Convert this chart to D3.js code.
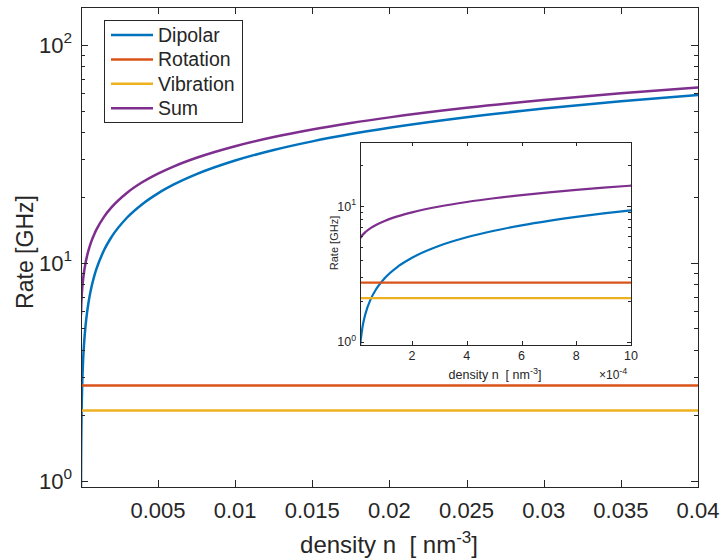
<!DOCTYPE html>
<html><head><meta charset="utf-8">
<script src="https://cdn.jsdelivr.net/npm/d3@7"></script>
<style>
body{margin:0;background:#fff}
text{font-family:"Liberation Sans",Arial,Helvetica,sans-serif;fill:#262626}
</style>
</head><body>
<svg id="c" width="722" height="558"></svg>
<script>
// ---- data ----
const density = [0.00001,0.00002,0.00003,0.00005,0.00007,0.0001,0.00015,0.0002,0.0003,0.0004,0.0005,0.0006,0.0007,0.0008,0.0009,0.001,0.0015,0.002,0.003,0.004,0.005,0.006,0.0075,0.01,0.0125,0.015,0.0175,0.02,0.025,0.03,0.035,0.04];
const dipolar = [0.933,1.319,1.616,2.086,2.468,2.95,3.613,4.172,5.11,5.90,6.596,7.226,7.805,8.344,8.85,9.329,11.425,13.193,16.158,18.657,20.86,22.85,25.55,29.5,32.98,36.13,39.02,41.72,46.64,51.1,55.19,59.0];
const sumRate = [5.77,6.16,6.46,6.93,7.31,7.79,8.45,9.01,9.95,10.74,11.44,12.07,12.65,13.18,13.69,14.17,16.27,18.03,21.0,23.5,25.7,27.69,30.39,34.34,37.82,40.97,43.86,46.56,51.48,55.94,60.03,63.84];
const flatX = [0.00001, 0.04];
const rotation = [2.74, 2.74];
const vibration = [2.10, 2.10];

const seriesNames = ["Dipolar","Rotation","Vibration","Sum"];
const seriesColors = ["#0072BD","#D95319","#EDB120","#7E2F8E"];

const xTicks = [0.005,0.01,0.015,0.02,0.025,0.03,0.035,0.04];
const xTickLabels = ["0.005","0.01","0.015","0.02","0.025","0.03","0.035","0.04"];
const yMajorTicks = [1,10,100];
const yMajorExp = ["0","1","2"];
const insetXTicks = [0.0002,0.0004,0.0006,0.0008,0.001];
const insetXTickLabels = ["2","4","6","8","10"];
const insetYMajor = [1,10];
const insetYExp = ["0","1"];

// ---- helpers ----
const svg = d3.select("#c");
const AX = "#262626";

function minorTicks(dom){
  const out=[];
  for(let e=-1;e<=3;e++){for(let m=2;m<=9;m++){const v=m*Math.pow(10,e); if(v>dom[0]&&v<dom[1]) out.push(v);}}
  return out;
}

function drawPanel(g, x, y, opt){
  const [x0,x1]=x.range(), [y0,y1]=y.range(); // y0 bottom, y1 top
  const id = opt.id;
  g.append("clipPath").attr("id",id).append("rect")
    .attr("x",x0).attr("y",y1).attr("width",x1-x0).attr("height",y0-y1);
  if(opt.bg) g.append("rect").attr("x",x0).attr("y",y1).attr("width",x1-x0).attr("height",y0-y1).attr("fill","#fff");
  const lines = g.append("g").attr("clip-path",`url(#${id})`);
  const lineGen = d3.line().x(d=>x(d[0])).y(d=>y(d[1])).curve(d3.curveMonotoneX);
  const sets = [
    d3.zip(density,dipolar),
    d3.zip(flatX,rotation),
    d3.zip(flatX,vibration),
    d3.zip(density,sumRate)
  ];
  sets.forEach((s,i)=>{
    lines.append("path").attr("d",lineGen(s)).attr("fill","none")
      .attr("stroke",seriesColors[i]).attr("stroke-width",opt.lw).attr("stroke-linejoin","round");
  });
  // ticks
  const t = g.append("g").attr("stroke",AX).attr("stroke-width",1);
  opt.xt.forEach(v=>{
    const px=Math.round(x(v))+0.5;
    t.append("line").attr("x1",px).attr("x2",px).attr("y1",y0).attr("y2",y0-opt.maj);
    t.append("line").attr("x1",px).attr("x2",px).attr("y1",y1).attr("y2",y1+opt.maj);
  });
  const ymaj = opt.ymaj.filter(v=>v>=y.domain()[0]&&v<=y.domain()[1]);
  ymaj.forEach(v=>{
    const py=Math.round(y(v))+0.5;
    t.append("line").attr("x1",x0).attr("x2",x0+opt.maj).attr("y1",py).attr("y2",py);
    t.append("line").attr("x1",x1).attr("x2",x1-opt.maj).attr("y1",py).attr("y2",py);
  });
  minorTicks(y.domain()).forEach(v=>{
    const py=Math.round(y(v))+0.5;
    t.append("line").attr("x1",x0).attr("x2",x0+opt.min).attr("y1",py).attr("y2",py);
    t.append("line").attr("x1",x1).attr("x2",x1-opt.min).attr("y1",py).attr("y2",py);
  });
  g.append("rect").attr("x",x0+0.5).attr("y",y1+0.5).attr("width",x1-x0).attr("height",y0-y1)
    .attr("fill","none").attr("stroke",AX).attr("stroke-width",1);
  // x tick labels
  opt.xt.forEach((v,i)=>{
    g.append("text").attr("x",x(v)).attr("y",y0+opt.xly).attr("text-anchor","middle")
      .attr("font-size",opt.fs).text(opt.xtl[i]);
  });
  // y tick labels 10^k
  opt.ymaj.forEach((v,i)=>{
    const tx = g.append("text").attr("x",x0+opt.ylx).attr("y",y(v)+opt.fs*0.36).attr("text-anchor","end").attr("font-size",opt.fs);
    tx.append("tspan").text("10");
    tx.append("tspan").attr("dy",-opt.fs*0.45).attr("font-size",opt.fs*0.7).text(opt.yexp[i]);
  });
}

// ---- main axes ----
const xMain = d3.scaleLinear().domain([0.00001,0.04]).range([81,698]);
const yMain = d3.scaleLog().domain([0.936,149.5]).range([487,7]);
const gMain = svg.append("g");
drawPanel(gMain,xMain,yMain,{id:"cm",lw:2.5,xt:xTicks,xtl:xTickLabels,ymaj:yMajorTicks,yexp:yMajorExp,
  maj:7,min:4,fs:22,xly:31,ylx:-9});

// axis labels
const xl = svg.append("text").attr("x",389).attr("y",553).attr("text-anchor","middle").attr("font-size",24);
xl.append("tspan").text("density n\u00a0\u00a0[ nm");
xl.append("tspan").attr("dy",-10).attr("font-size",17).text("-3");
xl.append("tspan").attr("dy",10).text("]");
svg.append("text").attr("transform","translate(33,252) rotate(-90)").attr("text-anchor","middle")
  .attr("font-size",23).text("Rate [GHz]");

// legend
const lg = svg.append("g");
lg.append("rect").attr("x",104.5).attr("y",20.5).attr("width",138).attr("height",102)
  .attr("fill","#fff").attr("stroke",AX).attr("stroke-width",1);
seriesNames.forEach((n,i)=>{
  const cy = 35 + i*24.4;
  lg.append("line").attr("x1",111).attr("x2",153).attr("y1",cy).attr("y2",cy)
    .attr("stroke",seriesColors[i]).attr("stroke-width",2.5);
  lg.append("text").attr("x",158).attr("y",cy+7).attr("font-size",19.5).text(n);
});

// ---- inset axes ----
const xIn = d3.scaleLinear().domain([0.00001,0.001]).range([360,631]);
const yIn = d3.scaleLog().domain([0.95,29.7]).range([345,142]);
const gIn = svg.append("g");
drawPanel(gIn,xIn,yIn,{id:"ci",lw:2.2,bg:true,xt:insetXTicks,xtl:insetXTickLabels,ymaj:insetYMajor,yexp:insetYExp,
  maj:4,min:3,fs:12.5,xly:15,ylx:-4});
const xl2 = svg.append("text").attr("x",495).attr("y",379).attr("text-anchor","middle").attr("font-size",12.5);
xl2.append("tspan").text("density n\u00a0\u00a0[ nm");
xl2.append("tspan").attr("dy",-5).attr("font-size",9).text("-3");
xl2.append("tspan").attr("dy",5).text("]");
svg.append("text").attr("transform","translate(338,243) rotate(-90)").attr("text-anchor","middle")
  .attr("font-size",11).text("Rate [GHz]");
const ex = svg.append("text").attr("x",599).attr("y",379).attr("font-size",12);
ex.append("tspan").text("\u00d710");
ex.append("tspan").attr("dy",-5).attr("font-size",9).text("-4");
</script>
</body></html>
